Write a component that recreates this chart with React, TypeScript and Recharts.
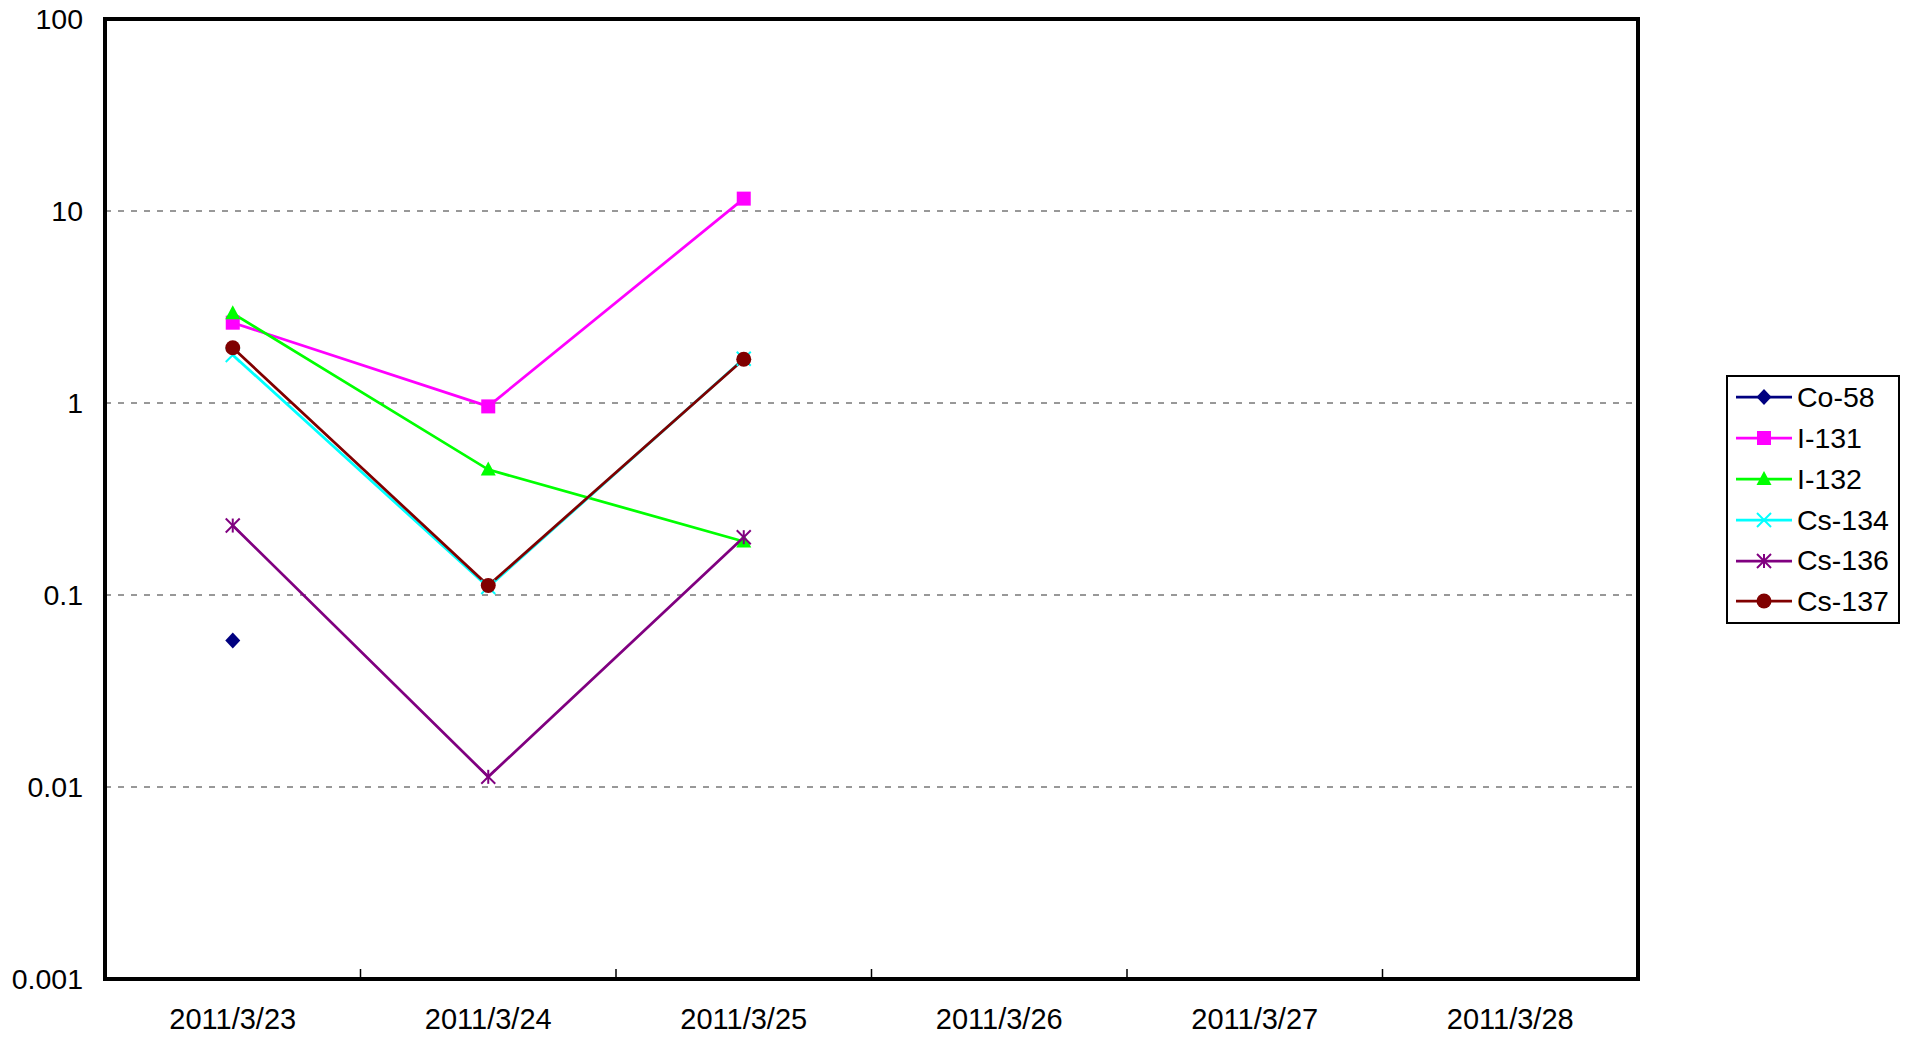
import React from "react";
import {
  LineChart,
  Line,
  XAxis,
  YAxis,
  CartesianGrid,
  Legend,
  ReferenceArea,
  ReferenceLine,
} from "recharts";

const dates = ["2011/3/23", "2011/3/24", "2011/3/25", "2011/3/26", "2011/3/27", "2011/3/28"];
const co58 = [0.058, null, null, null, null, null];
const i131 = [2.62, 0.96, 11.6, null, null, null];
const i132 = [2.93, 0.45, 0.19, null, null, null];
const cs134 = [1.78, 0.11, 1.7, null, null, null];
const cs136 = [0.23, 0.0113, 0.2, null, null, null];
const cs137 = [1.94, 0.112, 1.69, null, null, null];
const yTicks = [0.001, 0.01, 0.1, 1, 10, 100];
const dayEdges = [0.5, 1.5, 2.5, 3.5, 4.5];

type Shape = "diamond" | "square" | "triangle" | "x" | "star" | "circle";

const series: { key: string; name: string; color: string; shape: Shape; values: (number | null)[] }[] = [
  { key: "co58", name: "Co-58", color: "#000080", shape: "diamond", values: co58 },
  { key: "i131", name: "I-131", color: "#FF00FF", shape: "square", values: i131 },
  { key: "i132", name: "I-132", color: "#00FF00", shape: "triangle", values: i132 },
  { key: "cs134", name: "Cs-134", color: "#00FFFF", shape: "x", values: cs134 },
  { key: "cs136", name: "Cs-136", color: "#800080", shape: "star", values: cs136 },
  { key: "cs137", name: "Cs-137", color: "#800000", shape: "circle", values: cs137 },
];

const data = dates.map((d, i) => {
  const row: Record<string, number | string | null> = { i, date: d };
  series.forEach((s) => (row[s.key] = s.values[i]));
  return row;
});

const FONT = "'Liberation Sans', Arial, sans-serif";

function Marker({ shape, color, cx, cy }: { shape: Shape; color: string; cx: number; cy: number }) {
  const r = 7;
  switch (shape) {
    case "diamond":
      return <polygon points={`${cx},${cy - 8} ${cx + 7.5},${cy} ${cx},${cy + 8} ${cx - 7.5},${cy}`} fill={color} />;
    case "square":
      return <rect x={cx - r} y={cy - r} width={r * 2} height={r * 2} fill={color} />;
    case "triangle":
      return <polygon points={`${cx},${cy - 8} ${cx + 7.5},${cy + 6} ${cx - 7.5},${cy + 6}`} fill={color} />;
    case "x":
      return (
        <g stroke={color} strokeWidth={2}>
          <line x1={cx - r} y1={cy - r} x2={cx + r} y2={cy + r} />
          <line x1={cx - r} y1={cy + r} x2={cx + r} y2={cy - r} />
        </g>
      );
    case "star":
      return (
        <g stroke={color} strokeWidth={2}>
          <line x1={cx - r} y1={cy - r} x2={cx + r} y2={cy + r} />
          <line x1={cx - r} y1={cy + r} x2={cx + r} y2={cy - r} />
          <line x1={cx} y1={cy - r} x2={cx} y2={cy + r} />
        </g>
      );
    default:
      return <circle cx={cx} cy={cy} r={7.5} fill={color} />;
  }
}

const makeDot = (shape: Shape, color: string, name: string) => (p: any) => {
  if (p.cx == null || p.cy == null || p.value == null) return <g key={`${name}-${p.index}`} />;
  return (
    <g key={`${name}-${p.index}`}>
      <Marker shape={shape} color={color} cx={p.cx} cy={p.cy} />
    </g>
  );
};

// short inside tick mark at the foot of a vertical reference line
const edgeTick = (p: any) => {
  const bottom = Math.max(p.y1, p.y2);
  return <line x1={p.x1} x2={p.x1} y1={bottom} y2={bottom - 10} stroke="#000" strokeWidth={1.5} />;
};

function LegendBox() {
  return (
    <div
      style={{
        border: "2px solid #000",
        background: "#fff",
        fontFamily: FONT,
        fontSize: 28.5,
        color: "#000",
        width: 170,
      }}
    >
      {series.map((s) => (
        <div key={s.key} style={{ display: "flex", alignItems: "center", height: 40.8 }}>
          <svg width={69} height={20} style={{ flex: "none" }}>
            <line x1={8} y1={10} x2={64} y2={10} stroke={s.color} strokeWidth={2.75} />
            <Marker shape={s.shape} color={s.color} cx={36} cy={10} />
          </svg>
          <span style={{ lineHeight: 1 }}>{s.name}</span>
        </div>
      ))}
    </div>
  );
}

export default function App() {
  return (
    <div style={{ position: "absolute", left: 0, top: 0, width: 1912, height: 1039, background: "#fff", fontFamily: FONT }}>
      <LineChart width={1912} height={1039} data={data} margin={{ top: 19, right: 274, left: 0, bottom: 0 }}>
        <CartesianGrid horizontal vertical={false} stroke="#333" strokeDasharray="6 7" />
        <XAxis
          dataKey="i"
          type="number"
          domain={[-0.5, 5.5]}
          ticks={[0, 1, 2, 3, 4, 5]}
          tickFormatter={(v: number) => dates[v]}
          height={60}
          axisLine={false}
          tickLine={false}
          tickSize={0}
          tickMargin={29}
          tick={{ fill: "#000", fontSize: 29, fontFamily: FONT }}
          allowDataOverflow
        />
        <YAxis
          type="number"
          scale="log"
          domain={[0.001, 100]}
          ticks={yTicks}
          width={105}
          axisLine={false}
          tickLine={false}
          tickSize={0}
          tickMargin={22}
          tickFormatter={(v: number) => String(v)}
          tick={{ fill: "#000", fontSize: 28.5, fontFamily: FONT }}
          allowDataOverflow
        />
        {dayEdges.map((e) => (
          <ReferenceLine key={e} x={e} stroke="#000" shape={edgeTick} ifOverflow="visible" />
        ))}
        <ReferenceArea x1={-0.5} x2={5.5} y1={0.001} y2={100} fill="none" stroke="#000" strokeWidth={4} ifOverflow="visible" />
        {series.map((s) => (
          <Line
            key={s.key}
            dataKey={s.key}
            name={s.name}
            stroke={s.color}
            strokeWidth={2.75}
            dot={makeDot(s.shape, s.color, s.key)}
            activeDot={false}
            connectNulls={false}
            isAnimationActive={false}
          />
        ))}
        <Legend
          layout="vertical"
          align="center"
          verticalAlign="middle"
          content={() => <LegendBox />}
          wrapperStyle={{ left: 1726, top: 375, width: 174 }}
        />
      </LineChart>
    </div>
  );
}
